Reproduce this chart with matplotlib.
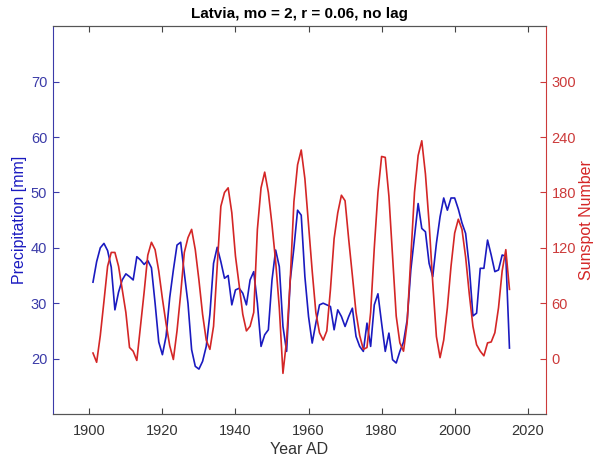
import matplotlib
matplotlib.use("Agg")
import matplotlib.pyplot as plt
import numpy as np

plt.rcParams['font.family'] = ['Liberation Sans', 'DejaVu Sans']

# data, one value per year from 1901
precip = [33.8, 37.5, 40, 40.8, 39.5, 36.5, 28.8, 32, 34.2, 35.3,
          34.8, 34.2, 38.4, 37.8, 37, 37.7, 36.4, 30, 23, 20.7,
          24, 31, 36, 40.5, 41, 35.4, 30, 21.6, 18.6, 18.1,
          19.5, 22.2, 28, 37.2, 40.1, 37.5, 34.5, 35, 29.7, 32.4,
          32.7, 31.8, 29.7, 34.2, 35.7, 30, 22.2, 24.3, 25.2, 34.2,
          39.6, 36.6, 25.8, 21.3, 34.2, 40, 46.8, 45.9, 34.8, 27.6,
          22.8, 26.4, 29.7, 30, 29.7, 29.4, 25.2, 28.8, 27.6, 25.8,
          27.6, 29.1, 24, 22.2, 21.3, 26.4, 22.2, 29.7, 31.7, 26.4,
          21.3, 24.6, 19.8, 19.2, 21.3, 23, 27, 36, 42, 48,
          43.5, 42.9, 37.2, 34.8, 40.8, 45.6, 49, 46.8, 49, 49,
          47, 44.5, 42.6, 36.6, 27.7, 28.2, 36.3, 36.3, 41.4, 38.7,
          35.7, 36, 38.7, 38.5, 21.9]

sunspots = [6, -4, 25, 62, 100, 115, 115, 100, 75, 50,
            12, 8, -2, 35, 72, 112, 126, 118, 95, 65,
            38, 14, -1, 30, 70, 115, 131, 140, 118, 85,
            48, 20, 10, 35, 100, 165, 180, 185, 158, 111,
            80, 48, 30, 35, 50, 140, 185, 202, 180, 145,
            105, 55, -16, 20, 86, 170, 210, 226, 195, 145,
            95, 50, 28, 20, 30, 75, 130, 158, 177, 171,
            129, 90, 50, 25, 10, 12, 50, 120, 180, 219,
            218, 176, 111, 46, 17, 8, 39, 110, 180, 220,
            236, 200, 147, 82, 24, 1, 20, 55, 100, 136,
            151, 140, 110, 70, 35, 15, 8, 3, 17, 18,
            28, 55, 95, 118, 75]

years = np.arange(1901, 1901 + len(precip))

x_ticks = [1900, 1920, 1940, 1960, 1980, 2000, 2020]
left_ticks = [20, 30, 40, 50, 60, 70]
right_ticks = [0, 60, 120, 180, 240, 300]

blue = '#1a1ac0'
red = '#d42626'
axblue = '#3b3ba8'
axred = '#cc3a3a'

fig = plt.figure(figsize=(6, 4.62), dpi=100)
ax = fig.add_axes([0.088, 0.104, 0.822, 0.839])
ax2 = ax.twinx()

ax.plot(years, precip, color=blue, lw=1.2)
ax2.plot(years, sunspots, color=red, lw=1.2)

ax.set_xlim(1890, 2025)
ax.set_ylim(10, 80)
ax2.set_ylim(-60, 360)
ax.set_xticks(x_ticks)
ax.set_yticks(left_ticks)
ax2.set_yticks(right_ticks)

ax.tick_params(axis='x', direction='in', top=True, length=4, colors='#444444',
               labelcolor='#333333', labelsize=10.5, pad=7)
ax.tick_params(axis='y', direction='in', length=4, colors=axblue,
               labelcolor=axblue, labelsize=10.5, pad=4)
ax2.tick_params(axis='y', direction='in', length=4, colors=axred,
                labelcolor=axred, labelsize=10.5, pad=4)

ax.spines['left'].set_color(axblue)
ax2.spines['left'].set_visible(False)
ax2.spines['right'].set_color(axred)
ax.spines['right'].set_visible(False)
for sp in ['top', 'bottom']:
    ax.spines[sp].set_color('#555555')
    ax2.spines[sp].set_color('#555555')

ax.set_xlabel('Year AD', fontsize=11.5, color='#333333', labelpad=3)
ax.set_ylabel('Precipitation [mm]', fontsize=11.5, color=blue, labelpad=3)
ax2.set_ylabel('Sunspot Number', fontsize=11.5, color=red, labelpad=2)
ax.set_title('Latvia, mo = 2, r = 0.06, no lag', fontsize=11, fontweight='bold',
             pad=6)

fig.savefig('out.png', dpi=100)
